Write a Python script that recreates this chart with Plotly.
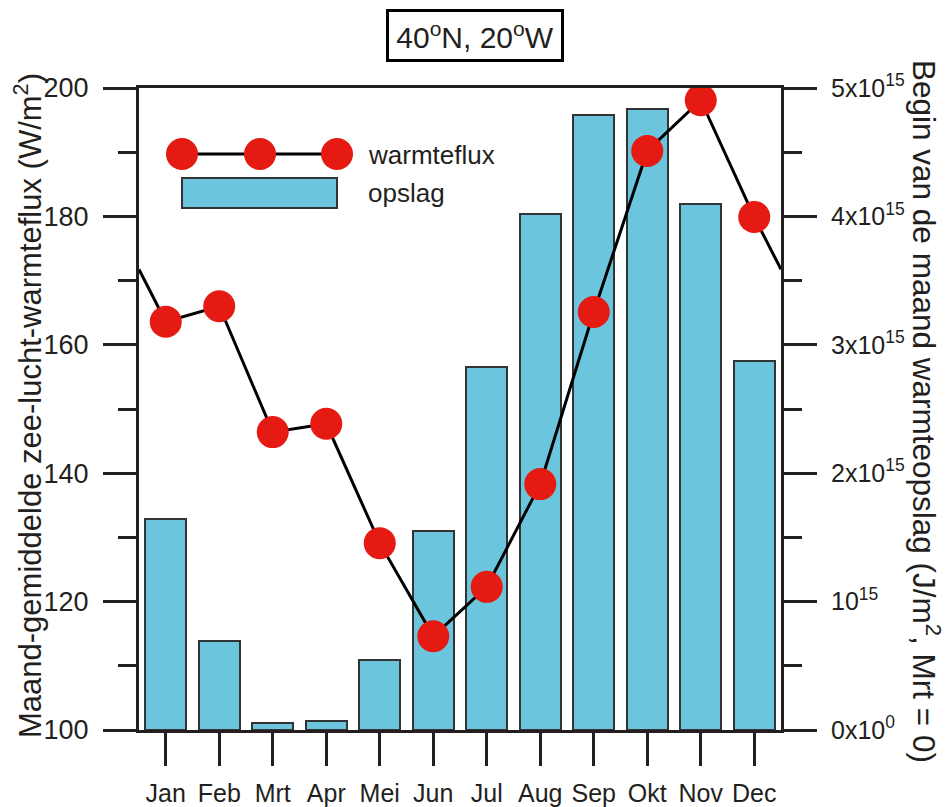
import plotly.graph_objects as go

months = ["Jan", "Feb", "Mrt", "Apr", "Mei", "Jun", "Jul", "Aug", "Sep", "Okt", "Nov", "Dec"]
month_pos = list(range(1, 13))
heat_flux = [163.6, 166.0, 146.4, 147.7, 129.1, 114.6, 122.3, 138.3, 165.1, 190.2, 198.1, 179.9]
storage = [1.64e15, 0.69e15, 0.055e15, 0.07e15, 0.545e15, 1.55e15, 2.83e15, 4.02e15, 4.79e15, 4.84e15, 4.10e15, 2.87e15]

left_ticks = [100, 120, 140, 160, 180, 200]
right_tickvals = [0, 1e15, 2e15, 3e15, 4e15, 5e15]
right_ticktext = ["0x10<sup>0</sup>", "10<sup>15</sup>", "2x10<sup>15</sup>", "3x10<sup>15</sup>",
                  "4x10<sup>15</sup>", "5x10<sup>15</sup>"]

# wrap-around: line continues to the plot edges at the Dec/Jan midpoint
edge_val = (heat_flux[0] + heat_flux[-1]) / 2
line_x = [0.5] + month_pos + [12.5]
line_y = [edge_val] + heat_flux + [edge_val]

FONT = "Liberation Sans, Arial, sans-serif"
RED = "#E51A12"
BLUE = "#6BC5DC"
INK = "#231F20"

fig = go.Figure()
fig.add_trace(go.Bar(x=month_pos, y=storage, yaxis="y", width=0.76,
                     marker=dict(color=BLUE, line=dict(color="#333333", width=2)),
                     showlegend=False))
fig.add_trace(go.Scatter(x=line_x, y=line_y, yaxis="y2", mode="lines",
                         line=dict(color="black", width=3), showlegend=False))
fig.add_trace(go.Scatter(x=month_pos, y=heat_flux, yaxis="y2", mode="markers",
                         marker=dict(color=RED, size=32, line=dict(width=0)), showlegend=False))

W, H = 642.0, 642.0
L, T = 139.0, 88.0
def px(x):
    return (x - L) / W
def py(y):
    return (T + H - y) / H

shapes = [
    dict(type="line", xref="paper", yref="paper", x0=px(182), x1=px(337), y0=py(154), y1=py(154),
         line=dict(color="black", width=3), layer="above"),
    dict(type="rect", xref="paper", yref="paper", x0=px(182), x1=px(337), y0=py(208), y1=py(178),
         fillcolor=BLUE, line=dict(color="#333333", width=2), layer="above"),
]
for cx in [182, 260, 337]:
    shapes.append(dict(type="circle", xref="paper", yref="paper", xsizemode="pixel", ysizemode="pixel",
                       xanchor=px(cx), yanchor=py(154), x0=-16, x1=16, y0=-16, y1=16,
                       fillcolor=RED, line=dict(width=0), layer="above"))

annotations = [
    dict(text="warmteflux", xref="paper", yref="paper", x=px(366), y=py(155), xanchor="left",
         yanchor="middle", showarrow=False, font=dict(size=26, color=INK, family=FONT)),
    dict(text="opslag", xref="paper", yref="paper", x=px(366), y=py(193), xanchor="left",
         yanchor="middle", showarrow=False, font=dict(size=26, color=INK, family=FONT)),
    dict(text="40<sup>o</sup>N, 20<sup>o</sup>W", xref="paper", yref="paper", x=px(475), y=py(35),
         xanchor="center", yanchor="middle", showarrow=False, bordercolor="black", borderwidth=3,
         borderpad=2, bgcolor="white", width=168, height=43,
         font=dict(size=30, color=INK, family=FONT)),
    dict(text="Maand-gemiddelde zee-lucht-warmteflux (W/m<sup>2</sup>)", xref="paper", yref="paper",
         x=px(28), y=py(406), textangle=-90, xanchor="center", yanchor="middle", showarrow=False,
         font=dict(size=31, color=INK, family=FONT)),
    dict(text="Begin van de maand warmteopslag (J/m<sup>2</sup>, Mrt = 0)", xref="paper", yref="paper",
         x=px(926), y=py(411), textangle=90, xanchor="center", yanchor="middle", showarrow=False,
         font=dict(size=31.5, color=INK, family=FONT)),
]

fig.update_layout(
    width=949, height=807,
    margin=dict(l=139, r=168, t=88, b=77, autoexpand=False),
    paper_bgcolor="white", plot_bgcolor="white",
    font=dict(family=FONT, size=25, color=INK),
    bargap=0,
    xaxis=dict(range=[0.5, 12.5], tickvals=month_pos, ticktext=months, ticks="outside",
               ticklen=33, tickwidth=3, tickcolor=INK, showline=True, linewidth=3, linecolor=INK,
               mirror=True, showgrid=False, zeroline=False, ticklabelstandoff=6, automargin=False,
               tickfont=dict(size=25, color=INK)),
    yaxis=dict(side="right", range=[0, 5e15], tickvals=right_tickvals, ticktext=right_ticktext,
               ticks="outside", ticklen=33, tickwidth=3, tickcolor=INK, showline=True, linewidth=3,
               linecolor=INK, showgrid=False, zeroline=False, ticklabelstandoff=9, automargin=False,
               minor=dict(ticks="outside", ticklen=18, tickwidth=3, tickcolor=INK, dtick=0.5e15, showgrid=False),
               tickfont=dict(size=25, color=INK)),
    yaxis2=dict(side="left", overlaying="y", range=[100, 200], tickvals=left_ticks,
                ticks="outside", ticklen=33, tickwidth=3, tickcolor=INK, showline=True, linewidth=3,
                linecolor=INK, showgrid=False, zeroline=False, ticklabelstandoff=9, automargin=False,
                minor=dict(ticks="outside", ticklen=18, tickwidth=3, tickcolor=INK, dtick=10, showgrid=False),
                tickfont=dict(size=27, color=INK)),
    shapes=shapes, annotations=annotations,
)

fig.write_html("out.html", config={"displayModeBar": False},
               post_script="document.body.style.margin='0px';")
